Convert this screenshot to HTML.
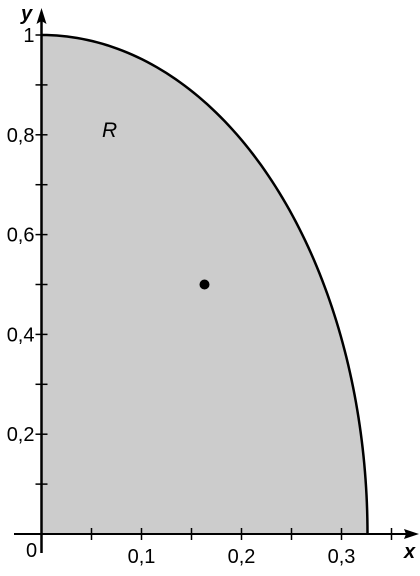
<!DOCTYPE html>
<html><head><meta charset="utf-8"><style>
body{margin:0;background:#fff}
</style></head><body>
<svg id="c" width="420" height="571" viewBox="0 0 420 571"></svg>
<script>
const xTicks=[0.05,0.1,0.15,0.2,0.25,0.3,0.35];
const xLabels=[[0.1,"0,1"],[0.2,"0,2"],[0.3,"0,3"]];
const yTicks=[0.1,0.2,0.3,0.4,0.5,0.6,0.7,0.8,0.9,1];
const yLabels=[[0.2,"0,2"],[0.4,"0,4"],[0.6,"0,6"],[0.8,"0,8"],[1,"1"]];
const semiAxisX=[0.326];
const centroid=[0.163,0.5];
const X=v=>41.5+v*1000, Y=v=>534-v*499;
const s=document.getElementById('c'),NS="http://www.w3.org/2000/svg";
const FS='font-family:"Liberation Sans",sans-serif;font-size:20px;fill:#000;';
function mk(t,a,p){const e=document.createElementNS(NS,t);for(const k in a)e.setAttribute(k,a[k]);(p||s).appendChild(e);return e;}
const a=semiAxisX[0];
let d=`M${X(0)},${Y(0)}`;const pts=[];
for(let i=0;i<=100;i++){const t=i/100*Math.PI/2;pts.push([X(a*Math.sin(t)),Y(Math.cos(t))]);}
let region=mk('path',{d:d+" L"+pts.map(p=>p.join(',')).join(' L')+" Z",fill:"#cccccc"});


let curve=mk('path',{d:"M"+pts.map(p=>p.join(',')).join(' L'),fill:"none",stroke:"#000","stroke-width":2.5});


let xa=mk('line',{x1:14,y1:Y(0),x2:408,y2:Y(0),stroke:"#000","stroke-width":2});


mk('path',{d:`M419,${Y(0)} L404,${Y(0)-5} L406,${Y(0)} L404,${Y(0)+5}Z`,fill:"#000"});
let ya=mk('line',{x1:X(0),y1:553,x2:X(0),y2:20,stroke:"#000","stroke-width":2.5});


mk('path',{d:`M${X(0)},8 L${X(0)-5},24 L${X(0)},21 L${X(0)+5},24Z`,fill:"#000"});
xTicks.forEach(v=>mk('line',{x1:X(v),y1:Y(0)-6,x2:X(v),y2:Y(0)+6,stroke:"#000","stroke-width":1.5}));
yTicks.forEach(v=>mk('line',{x1:X(0)-6,y1:Y(v),x2:X(0)+6,y2:Y(v),stroke:"#000","stroke-width":1.5}));
xLabels.forEach(([v,l])=>{let t=mk('text',{x:X(v),y:563,"text-anchor":"middle",style:FS});t.textContent=l;
});
yLabels.forEach(([v,l])=>{let t=mk('text',{x:X(0)-7,y:Y(v)+7,"text-anchor":"end",style:FS});t.textContent=l;
});
let z=mk('text',{x:26,y:557,style:FS});z.textContent="0";
let xl=mk('text',{x:404,y:558,style:FS+"font-style:italic;font-weight:bold;"});xl.textContent="x";

let yl=mk('text',{x:21,y:20,style:FS+"font-style:italic;font-weight:bold;"});yl.textContent="y";

let r=mk('text',{x:102,y:137,style:FS+"font-style:italic;font-size:21px;"});r.textContent="R";

let c=mk('circle',{cx:X(centroid[0]),cy:Y(centroid[1]),r:5,fill:"#000"});


</script>
</body></html>
